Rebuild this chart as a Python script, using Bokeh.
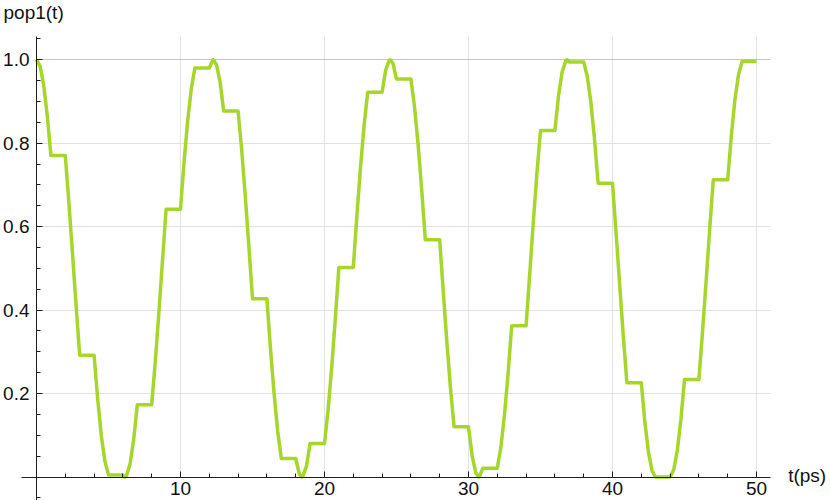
from bokeh.plotting import figure
from bokeh.models import Range1d, FixedTicker, PrintfTickFormatter, Label, Grid
from bokeh.embed import file_html
from bokeh.resources import INLINE

# ---- data ----
t_ps = [
    0, 0.25, 0.5, 0.75, 1,
    2, 2.25, 2.5, 2.75, 3,
    4, 4.25, 4.5, 4.75, 5,
    6, 6.142, 6.25, 6.5, 6.75, 7,
    8, 8.25, 8.5, 8.75, 9,
    10, 10.25, 10.5, 10.75, 11,
    12, 12.25, 12.283, 12.5, 12.75, 13,
    14, 14.25, 14.5, 14.75, 15,
    16, 16.25, 16.5, 16.75, 17,
    18, 18.25, 18.425, 18.5, 18.75, 19,
    20, 20.25, 20.5, 20.75, 21,
    22, 22.25, 22.5, 22.75, 23,
    24, 24.25, 24.5, 24.566, 24.75, 25,
    26, 26.25, 26.5, 26.75, 27,
    28, 28.25, 28.5, 28.75, 29,
    30, 30.25, 30.5, 30.708, 30.75, 31,
    32, 32.25, 32.5, 32.75, 33,
    34, 34.25, 34.5, 34.75, 35,
    36, 36.25, 36.5, 36.75, 36.85, 37,
    38, 38.25, 38.5, 38.75, 39,
    40, 40.25, 40.5, 40.75, 41,
    42, 42.25, 42.5, 42.75, 42.99, 43,
    44, 44.25, 44.5, 44.75, 45,
    46, 46.25, 46.5, 46.75, 47,
    48, 48.25, 48.5, 48.75, 49,
    50,
]
pop1 = [
    1.0, 0.9845, 0.9388, 0.8659, 0.7702,
    0.7702, 0.6577, 0.5354, 0.4109, 0.2919,
    0.2919, 0.1859, 0.0994, 0.0378, 0.0050,
    0.0050, 0.0, 0.0029, 0.0318, 0.0897, 0.1732,
    0.1732, 0.2770, 0.3946, 0.5188, 0.6418,
    0.6418, 0.7560, 0.8543, 0.9306, 0.9801,
    0.9801, 0.9997, 1.0, 0.9883, 0.9465, 0.8770,
    0.8770, 0.7840, 0.6733, 0.5519, 0.4272,
    0.4272, 0.3071, 0.1990, 0.1096, 0.0444,
    0.0444, 0.0076, 0.0, 0.0014, 0.0262, 0.0805,
    0.0805, 0.1608, 0.2622, 0.3785, 0.5022,
    0.5022, 0.6258, 0.7417, 0.8424, 0.9219,
    0.9219, 0.9752, 0.9989, 1.0, 0.9916, 0.9537,
    0.9537, 0.8876, 0.7975, 0.6888, 0.5684,
    0.5684, 0.4437, 0.3225, 0.2124, 0.1202,
    0.1202, 0.0515, 0.0108, 0.0, 0.0004, 0.0212,
    0.0212, 0.0717, 0.1488, 0.2478, 0.3624,
    0.3624, 0.4856, 0.6097, 0.7270, 0.8302,
    0.8302, 0.9128, 0.9698, 0.9975, 1.0, 0.9944,
    0.9944, 0.9604, 0.8979, 0.8106, 0.7040,
    0.7040, 0.5848, 0.4602, 0.3381, 0.2261,
    0.2261, 0.1311, 0.0591, 0.0145, 0.0, 0.0,
    0.0, 0.0167, 0.0634, 0.1372, 0.2336,
    0.2336, 0.3466, 0.4690, 0.5935, 0.7121,
    0.7121, 0.8175, 0.9032, 0.9638, 0.9956,
    0.9956,
]
x_major_ticks = [10, 20, 30, 40, 50]
x_minor_ticks = [2, 4, 6, 8, 12, 14, 16, 18, 22, 24, 26, 28,
                 32, 34, 36, 38, 42, 44, 46, 48]
y_major_ticks = [0.2, 0.4, 0.6, 0.8, 1.0]
y_minor_ticks = [-0.05, 0.05, 0.1, 0.15, 0.25, 0.3, 0.35, 0.45, 0.5, 0.55,
                 0.65, 0.7, 0.75, 0.85, 0.9, 0.95, 1.05]
x_label = "t(ps)"
y_label = "pop1(t)"

FONT = "Liberation Sans"
TXT = "#111111"
AX = "#1e1e1e"
# plot-range (where axes / grid end) and full visible range
PX0, PX1 = -1.04, 50.97
PY0, PY1 = -0.0563, 1.0557
VX0, VX1 = -2.5, 55.14
VY0, VY1 = -0.0563, 1.1419

p = figure(width=830, height=500, output_backend="svg", toolbar_location=None,
           x_range=Range1d(VX0, VX1), y_range=Range1d(VY0, VY1),
           min_border_left=0, min_border_right=0,
           min_border_top=0, min_border_bottom=0)
p.title.visible = False
p.outline_line_color = None
p.background_fill_color = "white"
p.border_fill_color = "white"

# axes crossing at the origin
xa = p.xaxis[0]
xa.fixed_location = 0
xa.bounds = (PX0, PX1)
xa.ticker = FixedTicker(ticks=x_major_ticks, minor_ticks=x_minor_ticks)
ya = p.yaxis[0]
ya.fixed_location = 0
ya.bounds = (PY0, PY1)
ya.ticker = FixedTicker(ticks=y_major_ticks, minor_ticks=y_minor_ticks)
ya.formatter = PrintfTickFormatter(format="%.1f")
for ax in (xa, ya):
    ax.axis_line_color = AX
    ax.axis_line_width = 1
    ax.major_tick_line_color = AX
    ax.minor_tick_line_color = AX
    ax.major_tick_in = 6
    ax.major_tick_out = 0
    ax.minor_tick_in = 4
    ax.minor_tick_out = 0
    ax.major_label_text_font = FONT
    ax.major_label_text_font_size = "19px"
    ax.major_label_text_color = TXT
xa.major_label_standoff = 5
ya.major_label_standoff = 7

# grid lines
p.xgrid.ticker = FixedTicker(ticks=x_major_ticks)
p.ygrid.ticker = FixedTicker(ticks=y_major_ticks[:-1])
p.xgrid.grid_line_color = "#e2e2e2"
p.ygrid.grid_line_color = "#e2e2e2"
p.xgrid.cross_bounds = (0, PY1)
p.ygrid.cross_bounds = (0, PX1)
top_grid = Grid(dimension=1, ticker=FixedTicker(ticks=y_major_ticks[-1:]),
                grid_line_color="#c4c4c4", cross_bounds=(0, PX1))
p.add_layout(top_grid)

p.line(t_ps, pop1, line_color="#a6d62b", line_width=3.5, line_join="round")

p.add_layout(Label(x=-2.29, y=1.113, text=y_label, text_font=FONT,
                   text_font_size="19px", text_color=TXT,
                   text_align="left", text_baseline="middle"))
p.add_layout(Label(x=52.2, y=0.004, text=x_label, text_font=FONT,
                   text_font_size="19px", text_color=TXT,
                   text_align="left", text_baseline="middle"))

open("out.html", "w").write(file_html(p, INLINE))
